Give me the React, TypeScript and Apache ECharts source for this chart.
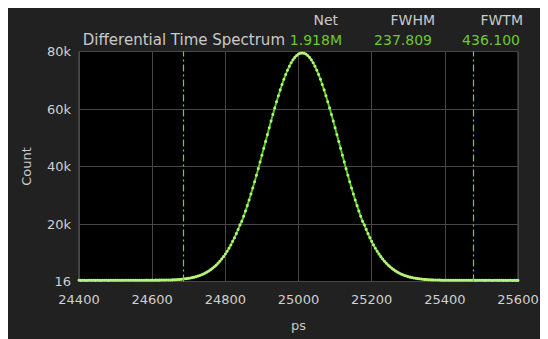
import React, { useEffect, useRef } from "react";
import * as echarts from "echarts";

const times: number[] = [
  24400, 24405, 24410, 24415, 24420, 24425, 24430, 24435, 24440, 24445,
  24450, 24455, 24460, 24465, 24470, 24475, 24480, 24485, 24490, 24495,
  24500, 24505, 24510, 24515, 24520, 24525, 24530, 24535, 24540, 24545,
  24550, 24555, 24560, 24565, 24570, 24575, 24580, 24585, 24590, 24595,
  24600, 24605, 24610, 24615, 24620, 24625, 24630, 24635, 24640, 24645,
  24650, 24655, 24660, 24665, 24670, 24675, 24680, 24685, 24690, 24695,
  24700, 24705, 24710, 24715, 24720, 24725, 24730, 24735, 24740, 24745,
  24750, 24755, 24760, 24765, 24770, 24775, 24780, 24785, 24790, 24795,
  24800, 24805, 24810, 24815, 24820, 24825, 24830, 24835, 24840, 24845,
  24850, 24855, 24860, 24865, 24870, 24875, 24880, 24885, 24890, 24895,
  24900, 24905, 24910, 24915, 24920, 24925, 24930, 24935, 24940, 24945,
  24950, 24955, 24960, 24965, 24970, 24975, 24980, 24985, 24990, 24995,
  25000, 25005, 25010, 25015, 25020, 25025, 25030, 25035, 25040, 25045,
  25050, 25055, 25060, 25065, 25070, 25075, 25080, 25085, 25090, 25095,
  25100, 25105, 25110, 25115, 25120, 25125, 25130, 25135, 25140, 25145,
  25150, 25155, 25160, 25165, 25170, 25175, 25180, 25185, 25190, 25195,
  25200, 25205, 25210, 25215, 25220, 25225, 25230, 25235, 25240, 25245,
  25250, 25255, 25260, 25265, 25270, 25275, 25280, 25285, 25290, 25295,
  25300, 25305, 25310, 25315, 25320, 25325, 25330, 25335, 25340, 25345,
  25350, 25355, 25360, 25365, 25370, 25375, 25380, 25385, 25390, 25395,
  25400, 25405, 25410, 25415, 25420, 25425, 25430, 25435, 25440, 25445,
  25450, 25455, 25460, 25465, 25470, 25475, 25480, 25485, 25490, 25495,
  25500, 25505, 25510, 25515, 25520, 25525, 25530, 25535, 25540, 25545,
  25550, 25555, 25560, 25565, 25570, 25575, 25580, 25585, 25590, 25595,
  25600,
];

const counts: number[] = [
  410, 395, 430, 405, 385, 420, 440, 400, 415, 390,
  425, 405, 380, 435, 410, 420, 395, 430, 445, 405,
  420, 440, 415, 400, 435, 450, 425, 410, 440, 455,
  430, 445, 420, 460, 440, 450, 435, 465, 455, 445,
  470, 460, 480, 465, 475, 490, 485, 495, 505, 510,
  545, 560, 605, 625, 690, 720, 790, 845, 935, 1010,
  1120, 1225, 1370, 1510, 1690, 1880, 2110, 2345, 2635, 2930,
  3300, 3675, 4120, 4585, 5130, 5690, 6355, 7040, 7830, 8645,
  9560, 10520, 11600, 12720, 13960, 15240, 16650, 18110, 19690, 20930,
  22670, 24490, 26390, 28370, 30420, 32540, 34720, 36960, 39250, 41580,
  43930, 46310, 48700, 51080, 53450, 55790, 58100, 60340, 62530, 64630,
  66640, 68540, 70330, 71990, 73500, 74870, 76070, 77100, 77960, 78630,
  79110, 79400, 79500, 79400, 79110, 78630, 77960, 77100, 76070, 74870,
  73500, 71990, 70330, 68540, 66640, 64630, 62530, 60340, 58100, 55790,
  53450, 51080, 48700, 46310, 43930, 41580, 39250, 36960, 34720, 32540,
  30420, 28370, 26390, 24490, 22670, 20930, 19680, 18120, 16640, 15250,
  13950, 12730, 11590, 10530, 9550, 8650, 7820, 7050, 6350, 5700,
  5120, 4590, 4115, 3680, 3295, 2940, 2630, 2350, 2105, 1885,
  1688, 1515, 1365, 1230, 1115, 1015, 925, 850, 782, 725,
  675, 633, 596, 565, 538, 516, 500, 485, 470, 460,
  455, 445, 450, 435, 440, 425, 430, 420, 445, 415,
  430, 410, 425, 440, 405, 420, 415, 395, 430, 410,
  400, 425, 390, 415, 405, 420, 385, 410, 430, 395,
  405, 420, 390, 410, 385, 415, 400, 380, 405, 395,
  390,
];

const markerTimes: number[] = [24684, 25477];

const yTickLabels: string[] = ["16", "20k", "40k", "60k", "80k"];

const chartTitle = "Differential Time Spectrum";
const statNames: string[] = ["Net", "FWHM", "FWTM"];
const statValues: string[] = ["1.918M", "237.809", "436.100"];

const FONT = "DejaVu Sans";

export default function App() {
  const ref = useRef<HTMLDivElement>(null);

  useEffect(() => {
    if (!ref.current) return;
    const chart = echarts.init(ref.current, undefined, { renderer: "svg" });

    const valueRight = [334, 424, 512];
    const nameRight = [330, 427, 515];

    const graphics: any[] = [
      {
        type: "text",
        x: 277,
        y: 32,
        style: {
          text: chartTitle,
          fill: "#c9c9c9",
          font: `15px "${FONT}"`,
          align: "right",
          verticalAlign: "middle",
        },
      },
    ];
    statNames.forEach((n, i) => {
      graphics.push({
        type: "text",
        x: nameRight[i],
        y: 12,
        style: {
          text: n,
          fill: "#c9c9c9",
          font: `14px "${FONT}"`,
          align: "right",
          verticalAlign: "middle",
        },
      });
      graphics.push({
        type: "text",
        x: valueRight[i],
        y: 32,
        style: {
          text: statValues[i],
          fill: "#6fc832",
          font: `14px "${FONT}"`,
          align: "right",
          verticalAlign: "middle",
        },
      });
    });

    chart.setOption({
      animation: false,
      backgroundColor: "#212121",
      textStyle: { fontFamily: FONT },
      grid: {
        left: 71,
        right: 30,
        top: 43.5,
        bottom: 57.5,
        show: true,
        backgroundColor: "#000000",
        borderColor: "#5c5c5c",
        borderWidth: 1,
      },
      graphic: graphics,
      xAxis: {
        type: "value",
        min: 24400,
        max: 25600,
        interval: 200,
        name: "ps",
        nameLocation: "middle",
        nameGap: 37,
        nameTextStyle: { color: "#c9c9c9", fontSize: 13, fontFamily: FONT },
        axisLine: { show: false },
        axisTick: { show: false },
        axisLabel: {
          color: "#d0d0d0",
          fontSize: 13,
          margin: 11,
          fontFamily: FONT,
          formatter: (v: number) => String(v),
        },
        splitLine: { show: true, lineStyle: { color: "#474747", width: 1 } },
      },
      yAxis: {
        type: "value",
        min: 0,
        max: 80000,
        interval: 20000,
        name: "Count",
        nameLocation: "middle",
        nameGap: 46,
        nameTextStyle: { color: "#c9c9c9", fontSize: 13, fontFamily: FONT },
        axisLine: { show: false },
        axisTick: { show: false },
        axisLabel: {
          color: "#d0d0d0",
          fontSize: 13,
          margin: 8,
          fontFamily: FONT,
          formatter: (v: number) => yTickLabels[Math.round(v / 20000)] ?? "",
        },
        splitLine: { show: true, lineStyle: { color: "#474747", width: 1 } },
      },
      series: [
        {
          type: "line",
          data: times.map((t, i) => [t, counts[i]]),
          symbol: "circle",
          symbolSize: 3,
          showSymbol: true,
          itemStyle: { color: "#b6f27c" },
          lineStyle: { color: "#52ca1c", width: 2 },
          silent: true,
          markLine: {
            silent: true,
            symbol: "none",
            label: { show: false },
            lineStyle: { color: "#6ed23a", width: 1.2, type: [7, 3, 2, 3] },
            data: markerTimes.map((x) => ({ xAxis: x })),
          },
        },
      ],
    });

    return () => chart.dispose();
  }, []);

  return <div ref={ref} style={{ width: 540, height: 331 }} />;
}
